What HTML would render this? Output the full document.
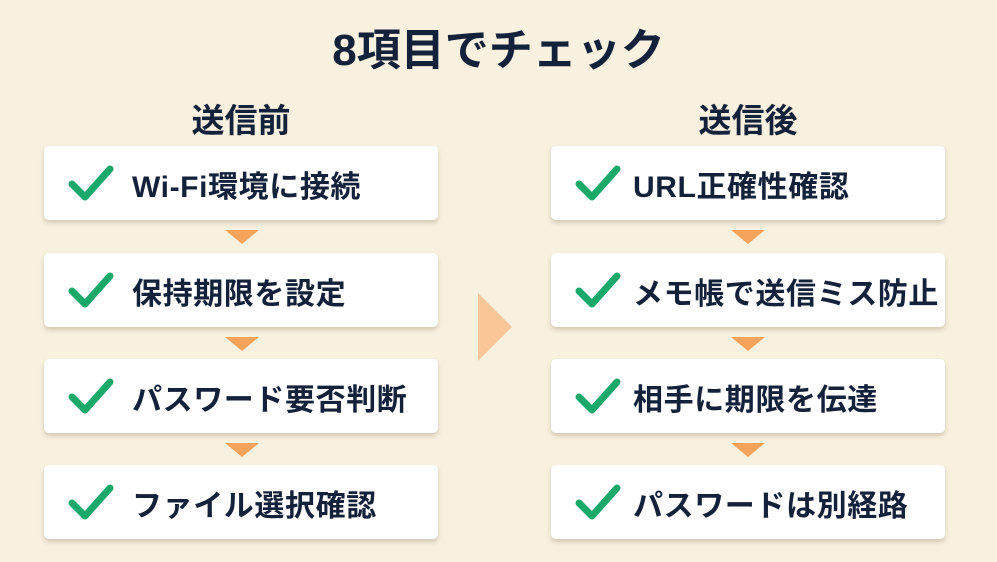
<!DOCTYPE html>
<html><head><meta charset="utf-8"><style>
body{margin:0;width:997px;height:562px;background:#f8f1e0;font-family:"Liberation Sans","Noto Sans CJK JP",sans-serif;position:relative;overflow:hidden;color:#14213a}
.t{position:absolute;font-weight:bold;text-align:center;white-space:nowrap}
.box{position:absolute;width:394px;height:74px;background:#fff;border-radius:5px;box-shadow:0 3px 5px rgba(120,100,60,.28)}
.box svg{position:absolute;left:24px;top:18px}
.box span{position:absolute;left:88px;top:16px;font-size:30px;font-weight:bold;white-space:nowrap;letter-spacing:0.6px}
.ar{position:absolute;width:0;height:0;border-left:17px solid transparent;border-right:17px solid transparent;border-top:14px solid #f6a45c}
</style></head><body>
<div class="t" style="left:0;width:997px;top:14px;font-size:44px">8項目でチェック</div>
<div class="t" style="left:44px;width:394px;top:94px;font-size:33px">送信前</div>
<div class="t" style="left:551px;width:394px;top:94px;font-size:33px">送信後</div>

<div class="box" style="left:44px;top:146px"><svg width="46" height="38" viewBox="0 0 46 38"><path d="M4 20 L17 33 L42 5" fill="none" stroke="#1aa86b" stroke-width="7" stroke-linecap="round" stroke-linejoin="round"/></svg><span>Wi-Fi環境に接続</span></div>
<div class="box" style="left:44px;top:253px"><svg width="46" height="38" viewBox="0 0 46 38"><path d="M4 20 L17 33 L42 5" fill="none" stroke="#1aa86b" stroke-width="7" stroke-linecap="round" stroke-linejoin="round"/></svg><span>保持期限を設定</span></div>
<div class="box" style="left:44px;top:359px"><svg width="46" height="38" viewBox="0 0 46 38"><path d="M4 20 L17 33 L42 5" fill="none" stroke="#1aa86b" stroke-width="7" stroke-linecap="round" stroke-linejoin="round"/></svg><span>パスワード要否判断</span></div>
<div class="box" style="left:44px;top:465px"><svg width="46" height="38" viewBox="0 0 46 38"><path d="M4 20 L17 33 L42 5" fill="none" stroke="#1aa86b" stroke-width="7" stroke-linecap="round" stroke-linejoin="round"/></svg><span>ファイル選択確認</span></div>

<div class="box" style="left:551px;top:146px"><svg width="46" height="38" viewBox="0 0 46 38"><path d="M4 20 L17 33 L42 5" fill="none" stroke="#1aa86b" stroke-width="7" stroke-linecap="round" stroke-linejoin="round"/></svg><span style="left:82px">URL正確性確認</span></div>
<div class="box" style="left:551px;top:253px"><svg width="46" height="38" viewBox="0 0 46 38"><path d="M4 20 L17 33 L42 5" fill="none" stroke="#1aa86b" stroke-width="7" stroke-linecap="round" stroke-linejoin="round"/></svg><span style="left:82px">メモ帳で送信ミス防止</span></div>
<div class="box" style="left:551px;top:359px"><svg width="46" height="38" viewBox="0 0 46 38"><path d="M4 20 L17 33 L42 5" fill="none" stroke="#1aa86b" stroke-width="7" stroke-linecap="round" stroke-linejoin="round"/></svg><span style="left:82px">相手に期限を伝達</span></div>
<div class="box" style="left:551px;top:465px"><svg width="46" height="38" viewBox="0 0 46 38"><path d="M4 20 L17 33 L42 5" fill="none" stroke="#1aa86b" stroke-width="7" stroke-linecap="round" stroke-linejoin="round"/></svg><span style="left:82px">パスワードは別経路</span></div>

<div class="ar" style="left:225px;top:230px"></div>
<div class="ar" style="left:225px;top:337px"></div>
<div class="ar" style="left:225px;top:443px"></div>
<div class="ar" style="left:731px;top:230px"></div>
<div class="ar" style="left:731px;top:337px"></div>
<div class="ar" style="left:731px;top:443px"></div>

<div style="position:absolute;left:478px;top:293px;width:0;height:0;border-top:34px solid transparent;border-bottom:34px solid transparent;border-left:34px solid #f9c599"></div>
</body></html>
